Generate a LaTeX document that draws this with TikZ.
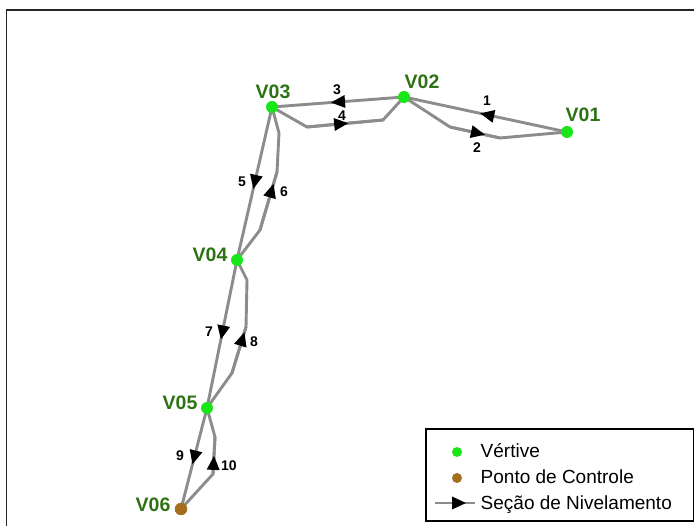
\documentclass[tikz,border=0pt]{standalone}
\usepackage{fontspec}
\setmainfont{Liberation Sans}
\usetikzlibrary{decorations.markings,backgrounds}
\definecolor{vgreen}{RGB}{24,230,24}
\definecolor{lblgreen}{RGB}{45,115,20}
\definecolor{ctrlbrown}{RGB}{165,110,30}
\definecolor{secgray}{RGB}{140,140,140}

\begin{document}
\begin{tikzpicture}[x=1pt,y=-1pt,
  vertex/.style={circle, fill=vgreen, inner sep=0pt, minimum size=12pt},
  control/.style={circle, fill=ctrlbrown, inner sep=0pt, minimum size=12.5pt},
  vlabel/.style={text=lblgreen, font=\fontsize{19.5}{19.5}\selectfont\bfseries, inner sep=0pt},
  num/.style={font=\fontsize{14}{14}\selectfont\bfseries, inner sep=0pt},
  sec/.style={draw=secgray, line width=2.9pt, line join=round, line cap=round},
  tipat/.style={postaction={decorate, decoration={markings,
      mark=at position #1 with {\fill[black] (7pt,0pt) -- (-7pt,6.5pt) -- (-7pt,-6.5pt) -- cycle;}}}},
  legtext/.style={font=\fontsize{19}{19}\selectfont, anchor=base west, inner sep=0pt},
]
\useasboundingbox (0,0) rectangle (694,526);

% map frame
\draw[line width=1.4pt, black!85] (6.5,526) -- (6.5,10) -- (694,10);

% vertices and control point
\node[vertex]  (V01) at (567,132) {};
\node[vertex]  (V02) at (404,97)  {};
\node[vertex]  (V03) at (272,107) {};
\node[vertex]  (V04) at (237,260) {};
\node[vertex]  (V05) at (207,408) {};
\node[control] (V06) at (181,509) {};

\node[vlabel] (lV01) at (583,115) {V01};
\node[vlabel] (lV02) at (422,82)  {V02};
\node[vlabel] (lV03) at (273,92)  {V03};
\node[vlabel] (lV04) at (210,255) {V04};
\node[vlabel] (lV05) at (180,403) {V05};
\node[vlabel] (lV06) at (153,505) {V06};

% bend points of the return sections
\coordinate (a) at (450,127);
\coordinate (b) at (500,138);
\coordinate (c) at (307,127);
\coordinate (d) at (383,120);
\coordinate (e) at (260,230);
\coordinate (f) at (277,172);
\coordinate (g) at (279,133);
\coordinate (h) at (232,373);
\coordinate (i) at (246,327);
\coordinate (j) at (247,280);
\coordinate (k) at (213,474);
\coordinate (l) at (215,437);

\begin{scope}[on background layer]
  % 1: V01 -> V02
  \draw[sec, tipat=0.49] (V01.center) -- (V02.center);
  % 2: V02 -> V01
  \draw[sec] (V02.center) -- (a) -- (b) -- (V01.center);
  \draw[sec, tipat=0.56] (a) -- (b);
  % 3: V02 -> V03
  \draw[sec, tipat=0.5] (V02.center) -- (V03.center);
  % 4: V03 -> V02
  \draw[sec] (V03.center) -- (c) -- (d) -- (V02.center);
  \draw[sec, tipat=0.45] (c) -- (d);
  % 5: V03 -> V04
  \draw[sec, tipat=0.49] (V03.center) -- (V04.center);
  % 6: V04 -> V03
  \draw[sec] (V04.center) -- (e) -- (f) -- (g) -- (V03.center);
  \draw[sec, tipat=0.68] (e) -- (f);
  % 7: V04 -> V05
  \draw[sec, tipat=0.49] (V04.center) -- (V05.center);
  % 8: V05 -> V04
  \draw[sec] (V05.center) -- (h) -- (i) -- (j) -- (V04.center);
  \draw[sec, tipat=0.74] (h) -- (i);
  % 9: V05 -> V06
  \draw[sec, tipat=0.49] (V05.center) -- (V06.center);
  % 10: V06 -> V05
  \draw[sec] (V06.center) -- (k) -- (l) -- (V05.center);
  \draw[sec, tipat=0.3] (k) -- (l);
\end{scope}

% section numbers
\node[num] (n1)  at (487,101) {1};
\node[num] (n2)  at (477,148) {2};
\node[num] (n3)  at (337,90)  {3};
\node[num] (n4)  at (342,116) {4};
\node[num] (n5)  at (242,182) {5};
\node[num] (n6)  at (284,192) {6};
\node[num] (n7)  at (209,332) {7};
\node[num] (n8)  at (254,342) {8};
\node[num] (n9)  at (180,456) {9};
\node[num] (n10) at (229,466) {10};

% legend
\node[draw=black, line width=2pt, minimum width=268pt, minimum height=92pt,
      anchor=north west, inner sep=0pt] (legend) at (425,428) {};
\node[circle, fill=vgreen, inner sep=0pt, minimum size=10pt] (legV) at (457,452) {};
\node[circle, fill=ctrlbrown, inner sep=0pt, minimum size=10pt] (legC) at (457,478) {};
\coordinate (legA) at (435,503);
\coordinate (legB) at (475,503);
\draw[draw=secgray, line width=2pt, tipat=0.6] (legA) -- (legB);
\node[legtext] (tV) at (480.5,458) {Vértive};
\node[legtext] (tC) at (480.5,484) {Ponto de Controle};
\node[legtext] (tS) at (480.5,510) {Seção de Nivelamento};
\end{tikzpicture}
\end{document}
